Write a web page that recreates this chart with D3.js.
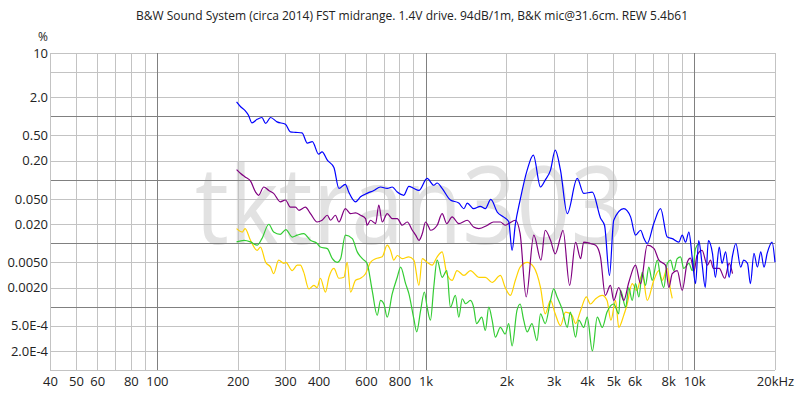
<!DOCTYPE html>
<html><head><meta charset="utf-8">
<script src="https://cdn.jsdelivr.net/npm/d3@7"></script>
<style>
html,body{margin:0;padding:0;background:#fff;}
svg{display:block;}
text{font-family:"Open Sans","Noto Sans",sans-serif;}
</style></head>
<body><svg id="c" width="800" height="399"></svg>
<script>
const titleText = "B&W Sound System (circa 2014) FST midrange. 1.4V drive. 94dB/1m, B&K mic@31.6cm. REW 5.4b61";
const watermark = "tktran303";
const unitLabel = "%";

const xTickVals = [40,50,60,80,100,200,300,400,600,800,1000,2000,3000,4000,5000,6000,8000,10000,20000];
const xTickLabels = ["40","50","60","80","100","200","300","400","600","800","1k","2k","3k","4k","5k","6k","8k","10k","20kHz"];
const yTickVals = [10,2,0.5,0.2,0.05,0.02,0.005,0.002,0.0005,0.0002];
const yTickLabels = ["10","2.0","0.50","0.20","0.050","0.020","0.0050","0.0020","5.0E-4","2.0E-4"];
const xMajorGrid = [100,1000,10000];
const xMinorGrid = [50,60,70,80,90,200,300,400,500,600,700,800,900,2000,3000,4000,5000,6000,7000,8000,9000,20000];
const yMajorGrid = [1,0.1,0.01,0.001];
const yMinorGrid = [10,5,2,0.5,0.2,0.05,0.02,0.005,0.002,0.0005,0.0002,0.0001];

const blueSeries = [[198,1.70],[205,1.42],[213,1.23],[219,1.05],[226,0.79],[236,0.90],[246,0.96],[254,0.775],[265,0.96],[280,0.82],[301,0.75],[314,0.57],[328,0.56],[347,0.55],[363,0.38],[379,0.40],[400,0.254],[412,0.276],[431,0.204],[456,0.156],[476,0.073],[503,0.085],[518,0.064],[549,0.045],[573,0.054],[606,0.061],[642,0.068],[680,0.077],[720,0.073],[752,0.077],[785,0.064],[830,0.057],[867,0.079],[905,0.073],[945,0.068],[1014,0.105],[1073,0.082],[1105,0.089],[1153,0.073],[1238,0.048],[1330,0.043],[1390,0.035],[1430,0.043],[1510,0.035],[1600,0.038],[1670,0.035],[1750,0.049],[1850,0.031],[1950,0.026],[2040,0.022],[2100,0.0077],[2160,0.020],[2250,0.048],[2390,0.142],[2520,0.245],[2680,0.077],[2790,0.099],[2920,0.142],[3040,0.293],[3180,0.142],[3370,0.0293],[3670,0.105],[3880,0.061],[4180,0.064],[4480,0.025],[4640,0.019],[4840,0.0031],[5020,0.023],[5470,0.035],[5800,0.026],[6050,0.0134],[6320,0.016],[6500,0.012],[6690,0.0099],[7080,0.0206],[7500,0.035],[7940,0.0125],[8290,0.0118],[8770,0.0104],[9030,0.0134],[9290,0.0104],[9560,0.015],[9840,0.0058],[10120,0.0023],[10400,0.011],[10700,0.0048],[11000,0.0020],[11300,0.011],[11700,0.0069],[12000,0.0029],[12400,0.0087],[12700,0.0048],[13100,0.0073],[13500,0.0029],[13900,0.0064],[14300,0.0099],[14900,0.0042],[15300,0.0054],[15800,0.0048],[16200,0.0023],[16700,0.0069],[17200,0.0042],[17700,0.0073],[18200,0.0042],[18700,0.0069],[19500,0.0104],[20000,0.0050]];

const purpleSeries = [[198,0.145],[205,0.126],[213,0.111],[223,0.096],[233,0.064],[239,0.057],[250,0.077],[261,0.068],[272,0.061],[288,0.045],[301,0.048],[314,0.037],[328,0.037],[338,0.033],[357,0.037],[373,0.0293],[395,0.0216],[412,0.023],[431,0.0276],[443,0.023],[462,0.0276],[476,0.0216],[503,0.0352],[526,0.0293],[549,0.030],[573,0.0276],[598,0.0245],[606,0.0192],[624,0.023],[652,0.0204],[670,0.040],[690,0.0216],[720,0.0293],[752,0.0245],[785,0.0245],[819,0.0192],[855,0.0216],[893,0.016],[919,0.0134],[945,0.0111],[973,0.0142],[1000,0.0216],[1028,0.018],[1043,0.016],[1105,0.0192],[1153,0.0293],[1200,0.0204],[1256,0.026],[1330,0.0204],[1430,0.023],[1510,0.018],[1580,0.017],[1700,0.0192],[1790,0.0216],[1900,0.0216],[1980,0.0192],[2040,0.0204],[2160,0.023],[2250,0.0142],[2370,0.00142],[2530,0.0134],[2690,0.0054],[2790,0.016],[2920,0.0111],[3040,0.0068],[3180,0.0125],[3250,0.016],[3440,0.00216],[3620,0.0104],[3780,0.0057],[3880,0.0104],[4110,0.0099],[4300,0.0093],[4480,0.0061],[4670,0.0015],[4880,0.00216],[5020,0.00125],[5240,0.0020],[5470,0.00125],[5710,0.0024],[6050,0.0045],[6320,0.0023],[6690,0.0093],[7080,0.0083],[7390,0.0054],[7820,0.0045],[8050,0.0020],[8290,0.0033],[8650,0.0037],[9030,0.0018],[9430,0.0050],[9690,0.0058],[10000,0.0037],[10250,0.0064],[10700,0.0077],[11200,0.0045],[11500,0.0054],[11800,0.0040],[12400,0.0040],[13000,0.0028],[13500,0.0048],[13900,0.0033]];

const greenSeries = [[198,0.0105],[211,0.0111],[223,0.0105],[236,0.0093],[246,0.0118],[261,0.0199],[272,0.0150],[288,0.0138],[302,0.0164],[319,0.0125],[333,0.0134],[352,0.0142],[373,0.0111],[395,0.0099],[406,0.0087],[431,0.0082],[450,0.0057],[469,0.0050],[483,0.0057],[503,0.0134],[534,0.0118],[557,0.0073],[582,0.0057],[606,0.0048],[633,0.0018],[661,0.00073],[680,0.00125],[700,0.0011],[720,0.00068],[752,0.0016],[785,0.0029],[808,0.0042],[843,0.0023],[867,0.0016],[905,0.00064],[927,0.00040],[959,0.00087],[990,0.0017],[1014,0.00098],[1043,0.00061],[1073,0.0020],[1105,0.0054],[1153,0.0029],[1200,0.0037],[1238,0.00098],[1292,0.0015],[1330,0.00068],[1370,0.00133],[1410,0.00111],[1470,0.00125],[1510,0.00098],[1550,0.00054],[1620,0.00068],[1670,0.00042],[1720,0.00098],[1770,0.00061],[1820,0.00033],[1900,0.00047],[1980,0.00037],[2040,0.00054],[2100,0.00024],[2190,0.00087],[2250,0.0011],[2320,0.00061],[2390,0.00040],[2490,0.00054],[2600,0.00029],[2680,0.00077],[2790,0.00054],[2920,0.00125],[3000,0.0019],[3090,0.00142],[3220,0.00093],[3370,0.00047],[3460,0.00082],[3620,0.00033],[3720,0.00061],[3880,0.00047],[4000,0.00068],[4180,0.00020],[4360,0.00068],[4550,0.00047],[4740,0.00082],[5020,0.0011],[5240,0.00077],[5320,0.0018],[5560,0.00098],[5710,0.0020],[5880,0.00125],[6050,0.0023],[6230,0.00142],[6410,0.0035],[6590,0.00216],[6780,0.0042],[6980,0.0026],[7290,0.0054],[7500,0.0029],[7710,0.0020],[7940,0.0048],[8170,0.0054],[8400,0.0037],[8650,0.0057],[8900,0.0061],[9150,0.0040],[9560,0.0048],[9840,0.0037],[10120,0.0082],[10400,0.0099]];

const yellowSeries = [[198,0.0170],[208,0.0150],[213,0.0170],[223,0.0111],[236,0.0077],[243,0.0087],[254,0.0050],[265,0.0042],[272,0.0033],[284,0.0054],[297,0.0048],[302,0.0050],[319,0.0037],[333,0.0045],[342,0.0045],[352,0.0035],[368,0.0019],[384,0.00216],[395,0.0020],[406,0.0028],[424,0.00169],[437,0.0029],[456,0.0040],[476,0.0028],[497,0.0029],[511,0.0050],[526,0.00169],[549,0.0026],[573,0.0028],[598,0.0033],[624,0.0050],[652,0.0057],[690,0.0061],[720,0.0093],[741,0.0077],[762,0.0054],[785,0.0064],[819,0.0057],[867,0.0061],[905,0.0054],[945,0.00216],[973,0.0057],[1014,0.0050],[1058,0.0045],[1105,0.0061],[1153,0.0073],[1200,0.0033],[1256,0.0026],[1310,0.0037],[1390,0.0031],[1470,0.0037],[1580,0.0029],[1670,0.0029],[1770,0.0024],[1900,0.0031],[1980,0.0020],[2070,0.0015],[2160,0.0026],[2250,0.0042],[2390,0.0050],[2530,0.0042],[2680,0.0020],[2790,0.00077],[2920,0.00125],[3040,0.00077],[3180,0.00050],[3320,0.00082],[3510,0.00073],[3620,0.00054],[3780,0.00087],[3970,0.00142],[4110,0.0011],[4300,0.00133],[4550,0.0015],[4740,0.00125],[4900,0.00061],[5100,0.00125],[5240,0.00047],[5470,0.00073],[5620,0.00105],[5880,0.0023],[6120,0.0018],[6410,0.0033],[6690,0.00125],[7080,0.0026],[7390,0.0037],[7610,0.0026],[7940,0.0040],[8170,0.0018],[8290,0.00135]];

const seriesList = [
  {data: yellowSeries, color: "#ffd200"},
  {data: greenSeries, color: "#33cc33"},
  {data: purpleSeries, color: "#800080"},
  {data: blueSeries, color: "#0000ff"}
];

const svg = d3.select("#c");
const x = d3.scaleLog().domain([40, 20000]).range([50, 775]);
const y = d3.scaleLog().domain([0.0001, 10]).range([370, 53]);
const px = v => Math.round(x(v)) + 0.5;
const py = v => Math.round(y(v)) + 0.5;

// title
svg.append("text").attr("x", 412).attr("y", 20).attr("text-anchor", "middle")
  .attr("font-size", 12).attr("fill", "#222").text(titleText);

// watermark
svg.append("text").attr("x", 195).attr("y", 244)
  .attr("font-size", 108).attr("fill", "#e2e2e2")
  .attr("textLength", 430).attr("lengthAdjust", "spacingAndGlyphs")
  .text(watermark);

// grid
const g = svg.append("g");
g.selectAll(".xmin").data(xMinorGrid).enter().append("line")
  .attr("x1", d => px(d)).attr("x2", d => px(d)).attr("y1", 53).attr("y2", 370)
  .attr("stroke", "#c3c3c3").attr("stroke-width", 1);
g.selectAll(".ymin").data(yMinorGrid).enter().append("line")
  .attr("y1", d => py(d)).attr("y2", d => py(d)).attr("x1", 50).attr("x2", 775)
  .attr("stroke", "#c3c3c3").attr("stroke-width", 1);
g.selectAll(".xmaj").data(xMajorGrid).enter().append("line")
  .attr("x1", d => px(d)).attr("x2", d => px(d)).attr("y1", 53).attr("y2", 370)
  .attr("stroke", "#808080").attr("stroke-width", 1);
g.selectAll(".ymaj").data(yMajorGrid).enter().append("line")
  .attr("y1", d => py(d)).attr("y2", d => py(d)).attr("x1", 50).attr("x2", 775)
  .attr("stroke", "#808080").attr("stroke-width", 1);
g.append("line").attr("x1", 50.5).attr("x2", 50.5).attr("y1", 53).attr("y2", 370.5).attr("stroke", "#c3c3c3");

// axes
const xAxis = d3.axisBottom(x).tickValues(xTickVals).tickFormat((d, i) => xTickLabels[i]).tickSize(0).tickPadding(0);
const ax = svg.append("g").attr("transform", "translate(0,377)").call(xAxis);
ax.select(".domain").remove();
ax.selectAll("text").attr("font-size", 13).attr("fill", "#222").attr("dy", "0.71em")
  .style("font-family", '"Open Sans","Noto Sans",sans-serif');

const yAxis = d3.axisLeft(y).tickValues(yTickVals).tickFormat((d, i) => yTickLabels[i]).tickSize(0).tickPadding(0);
const ay = svg.append("g").attr("transform", "translate(48,0)").call(yAxis);
ay.select(".domain").remove();
ay.selectAll("text").attr("font-size", 13).attr("fill", "#222")
  .style("font-family", '"Open Sans","Noto Sans",sans-serif');

svg.append("text").attr("x", 43).attr("y", 41).attr("text-anchor", "middle")
  .attr("font-size", 12).attr("fill", "#222").text(unitLabel);

// curves
const line = d3.line().x(d => x(d[0])).y(d => y(d[1])).curve(d3.curveMonotoneX);
seriesList.forEach(s => {
  svg.append("path").datum(s.data).attr("d", line)
    .attr("fill", "none").attr("stroke", s.color).attr("stroke-width", 1.2)
    .attr("stroke-linejoin", "round");
});
</script></body></html>
